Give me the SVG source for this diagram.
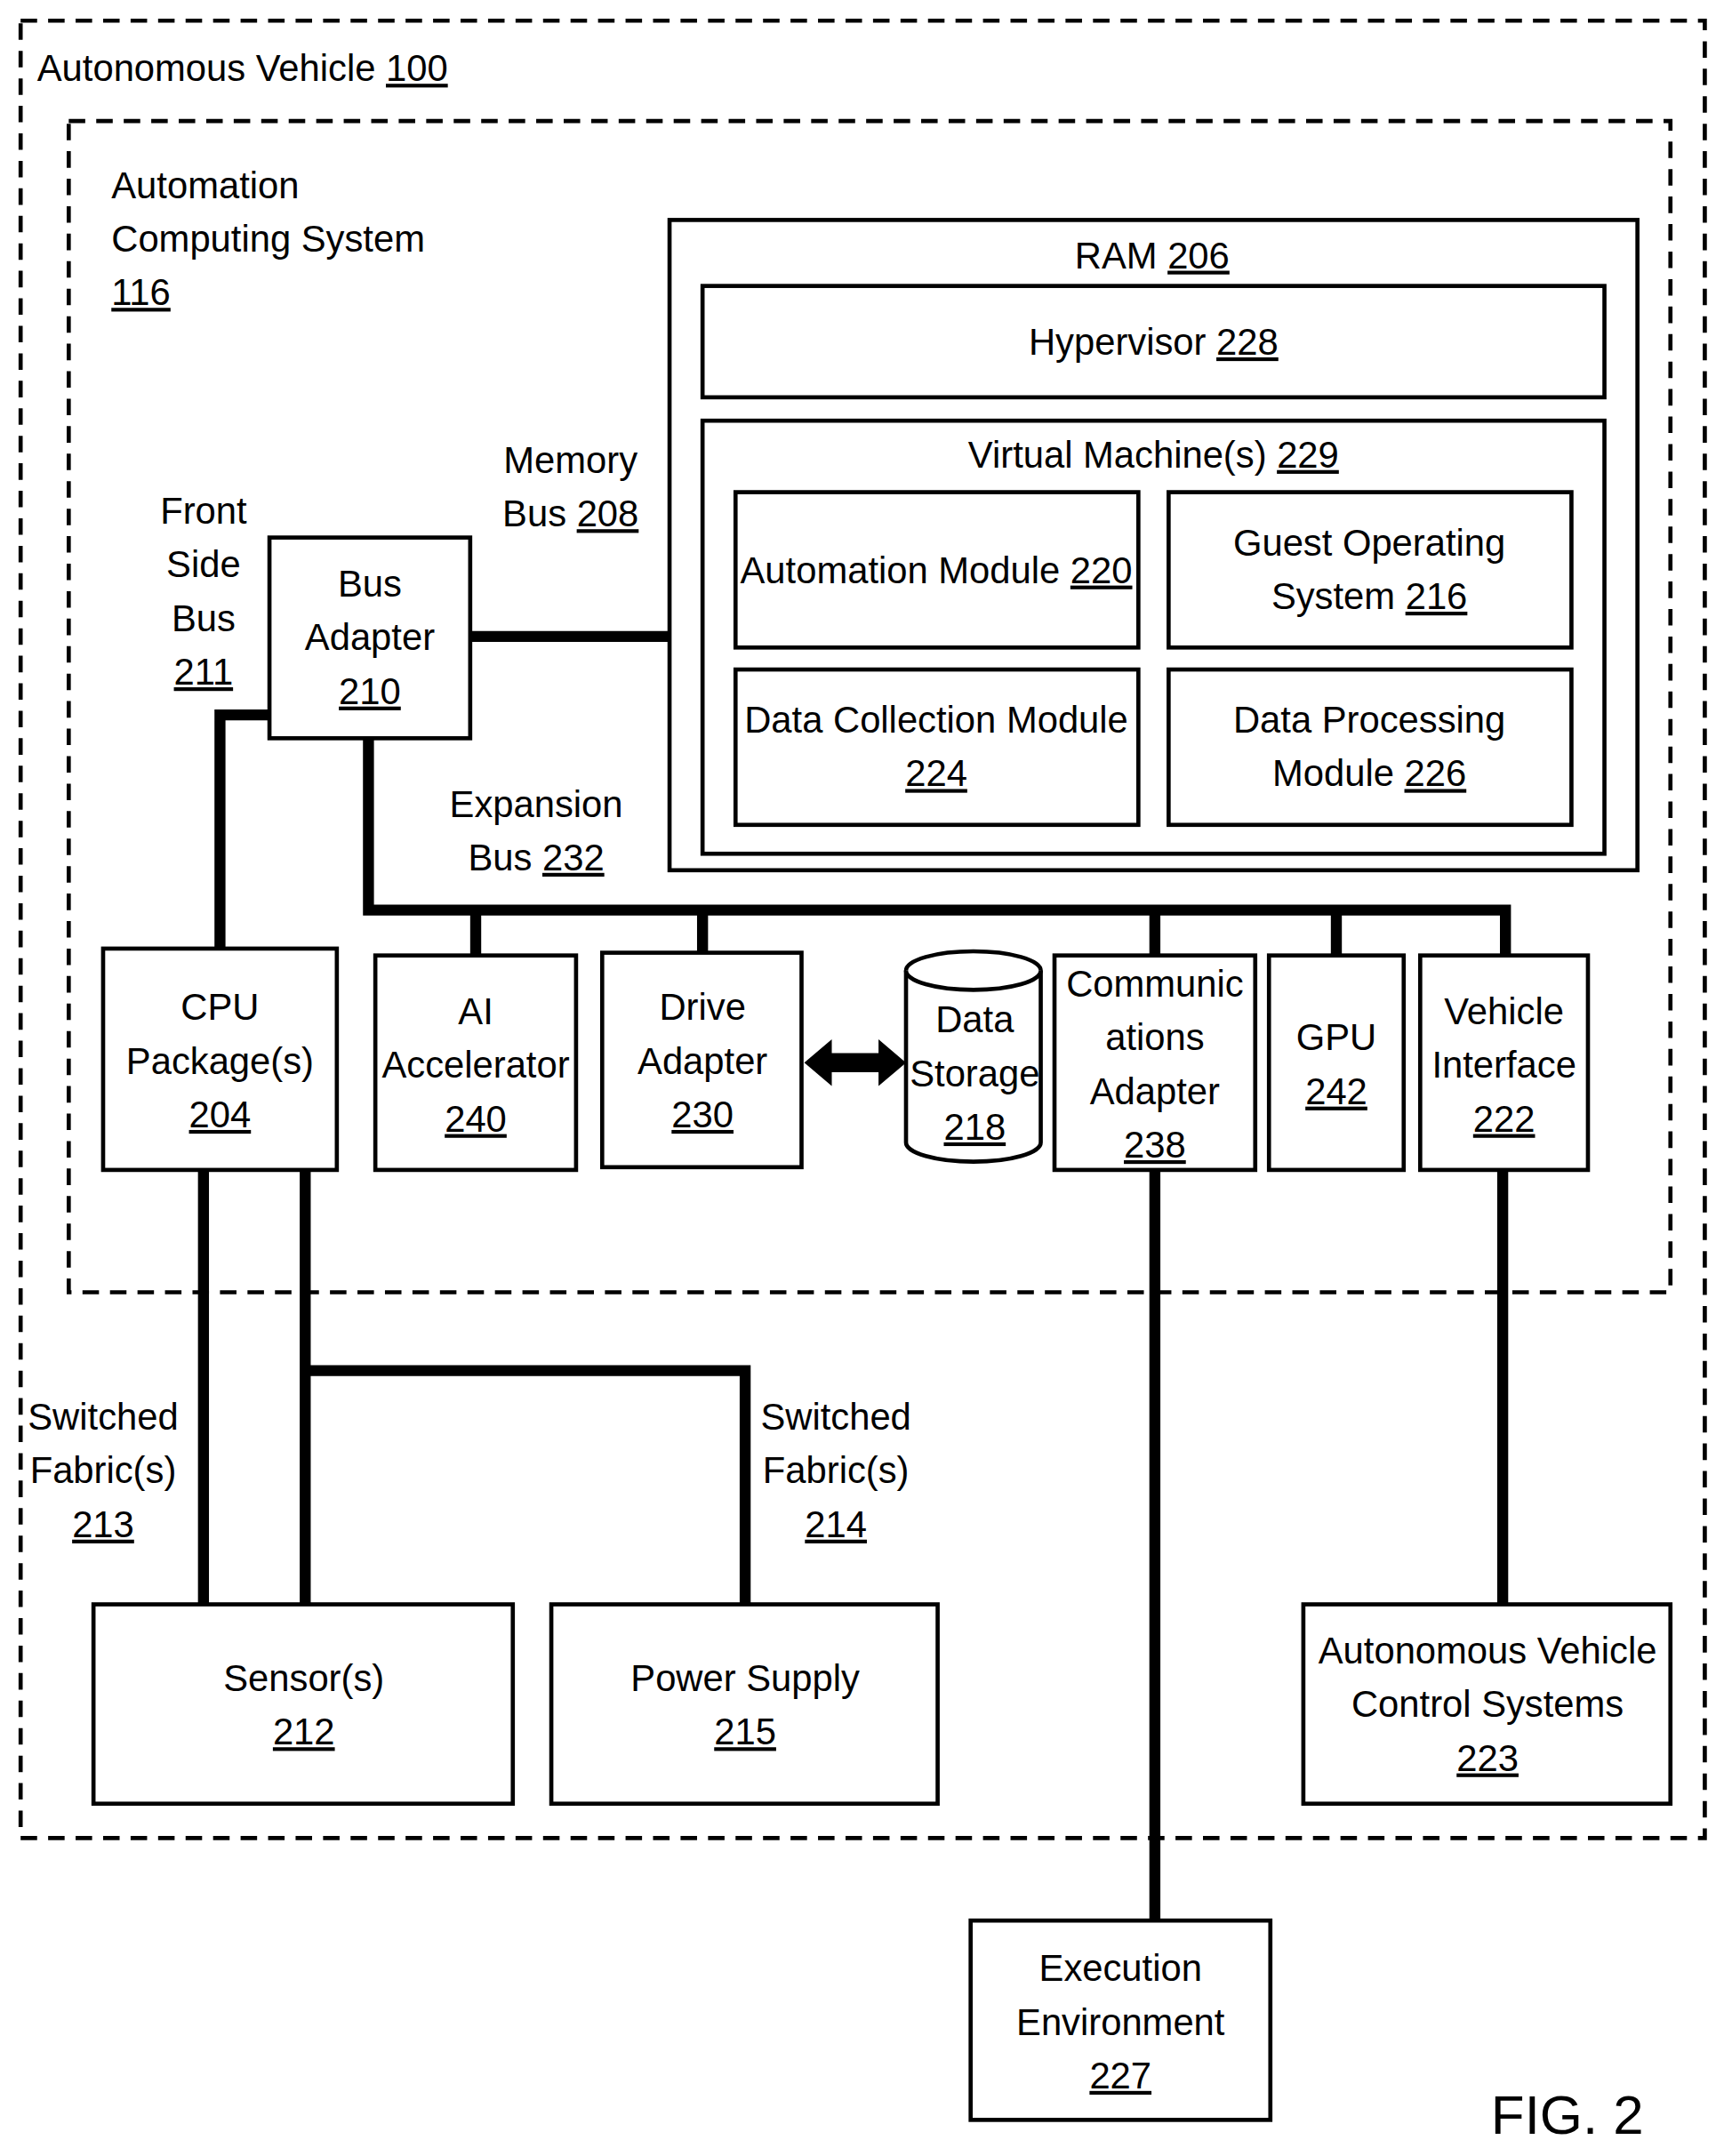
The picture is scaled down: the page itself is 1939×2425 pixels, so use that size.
<svg xmlns="http://www.w3.org/2000/svg" width="1939" height="2425" viewBox="0 0 1939 2425">
<style>
text{font-family:"Liberation Sans",Arial,sans-serif;font-size:27px;fill:#000;text-anchor:middle}
.l{text-anchor:start}
.u{text-decoration:underline}
.b{fill:#fff;stroke:#000;stroke-width:3}
.d{fill:none;stroke:#000;stroke-width:3;stroke-dasharray:12 8}
.w{fill:none;stroke:#000;stroke-width:8}
</style>
<rect width="1939" height="2425" fill="#fff"/>
<g transform="scale(1.5463)">
<rect class="d" x="15" y="15" width="1225" height="1322"/>
<rect class="d" x="50" y="88" width="1165" height="852"/>
<text class="l" x="27" y="59">Autonomous Vehicle <tspan class="u">100</tspan></text>
<text class="l" x="81" y="144">Automation</text>
<text class="l" x="81" y="183">Computing System</text>
<text class="l" x="81" y="222" text-decoration="underline">116</text>
<g id="connectors">
<path class="w" d="M342 463H487M196 520H160V690M268 537V662H1095V695M346 662V695M511 662V693M840 662V695M972 662V695"/>
<path class="w" d="M148 851V1167M222 851V1167M222 997H542V1167M840 851V1397M1093 851V1167"/>
<path d="M585 773L605 756V766H639V756L659 773L639 790V780H605V790Z" fill="#000"/>
<text x="148" y="381">Front</text><text x="148" y="420">Side</text><text x="148" y="459">Bus</text><text x="148" y="498" class="u">211</text>
<text x="415" y="344">Memory</text><text x="415" y="383">Bus <tspan class="u">208</tspan></text>
<text x="390" y="594">Expansion</text><text x="390" y="633">Bus <tspan class="u">232</tspan></text>
<text x="75" y="1040">Switched</text><text x="75" y="1079">Fabric(s)</text><text x="75" y="1118" class="u">213</text>
<text x="608" y="1040">Switched</text><text x="608" y="1079">Fabric(s)</text><text x="608" y="1118" class="u">214</text>
</g>
<g id="ram"><rect class="b" x="487" y="160" width="704" height="473"/><text x="838" y="195">RAM <tspan class="u">206</tspan></text></g>
<g id="hypervisor"><rect class="b" x="511" y="208" width="656" height="81"/><text x="839" y="258">Hypervisor <tspan class="u">228</tspan></text></g>
<g id="vm"><rect class="b" x="511" y="306" width="656" height="315"/><text x="839" y="340">Virtual Machine(s) <tspan class="u">229</tspan></text></g>
<g id="am"><rect class="b" x="535" y="358" width="293" height="113"/><text x="681" y="424">Automation Module <tspan class="u">220</tspan></text></g>
<g id="gos"><rect class="b" x="850" y="358" width="293" height="113"/><text x="996" y="404">Guest Operating</text><text x="996" y="443">System <tspan class="u">216</tspan></text></g>
<g id="dcm"><rect class="b" x="535" y="487" width="293" height="113"/><text x="681" y="533">Data Collection Module</text><text x="681" y="572" class="u">224</text></g>
<g id="dpm"><rect class="b" x="850" y="487" width="293" height="113"/><text x="996" y="533">Data Processing</text><text x="996" y="572">Module <tspan class="u">226</tspan></text></g>
<g id="busadapter"><rect class="b" x="196" y="391" width="146" height="146"/><text x="269" y="434">Bus</text><text x="269" y="473">Adapter</text><text x="269" y="512" class="u">210</text></g>
<g id="cpu"><rect class="b" x="75" y="690" width="170" height="161"/><text x="160" y="742">CPU</text><text x="160" y="781">Package(s)</text><text x="160" y="820" class="u">204</text></g>
<g id="ai"><rect class="b" x="273" y="695" width="146" height="156"/><text x="346" y="745">AI</text><text x="346" y="784">Accelerator</text><text x="346" y="823" class="u">240</text></g>
<g id="drive"><rect class="b" x="438" y="693" width="145" height="156"/><text x="511" y="742">Drive</text><text x="511" y="781">Adapter</text><text x="511" y="820" class="u">230</text></g>
<g id="storage"><path class="b" d="M659 706A49 14 0 0 1 757 706V831A49 14 0 0 1 659 831Z"/><path class="b" d="M659 706A49 14 0 0 0 757 706" fill="none"/><text x="709" y="751">Data</text><text x="709" y="790">Storage</text><text x="709" y="829" class="u">218</text></g>
<g id="comm"><rect class="b" x="767" y="695" width="146" height="156"/><text x="840" y="725">Communic</text><text x="840" y="764">ations</text><text x="840" y="803">Adapter</text><text x="840" y="842" class="u">238</text></g>
<g id="gpu"><rect class="b" x="923" y="695" width="98" height="156"/><text x="972" y="764">GPU</text><text x="972" y="803" class="u">242</text></g>
<g id="vi"><rect class="b" x="1033" y="695" width="122" height="156"/><text x="1094" y="745">Vehicle</text><text x="1094" y="784">Interface</text><text x="1094" y="823" class="u">222</text></g>
<g id="sensors"><rect class="b" x="68" y="1167" width="305" height="145"/><text x="221" y="1230">Sensor(s)</text><text x="221" y="1269" class="u">212</text></g>
<g id="power"><rect class="b" x="401" y="1167" width="281" height="145"/><text x="542" y="1230">Power Supply</text><text x="542" y="1269" class="u">215</text></g>
<g id="avcs"><rect class="b" x="948" y="1167" width="267" height="145"/><text x="1082" y="1210">Autonomous Vehicle</text><text x="1082" y="1249">Control Systems</text><text x="1082" y="1288" class="u">223</text></g>
<g id="exec"><rect class="b" x="706" y="1397" width="218" height="145"/><text x="815" y="1441">Execution</text><text x="815" y="1480">Environment</text><text x="815" y="1519" class="u">227</text></g>
<text x="1140" y="1552" style="font-size:40px">FIG. 2</text>
</g>
</svg>
